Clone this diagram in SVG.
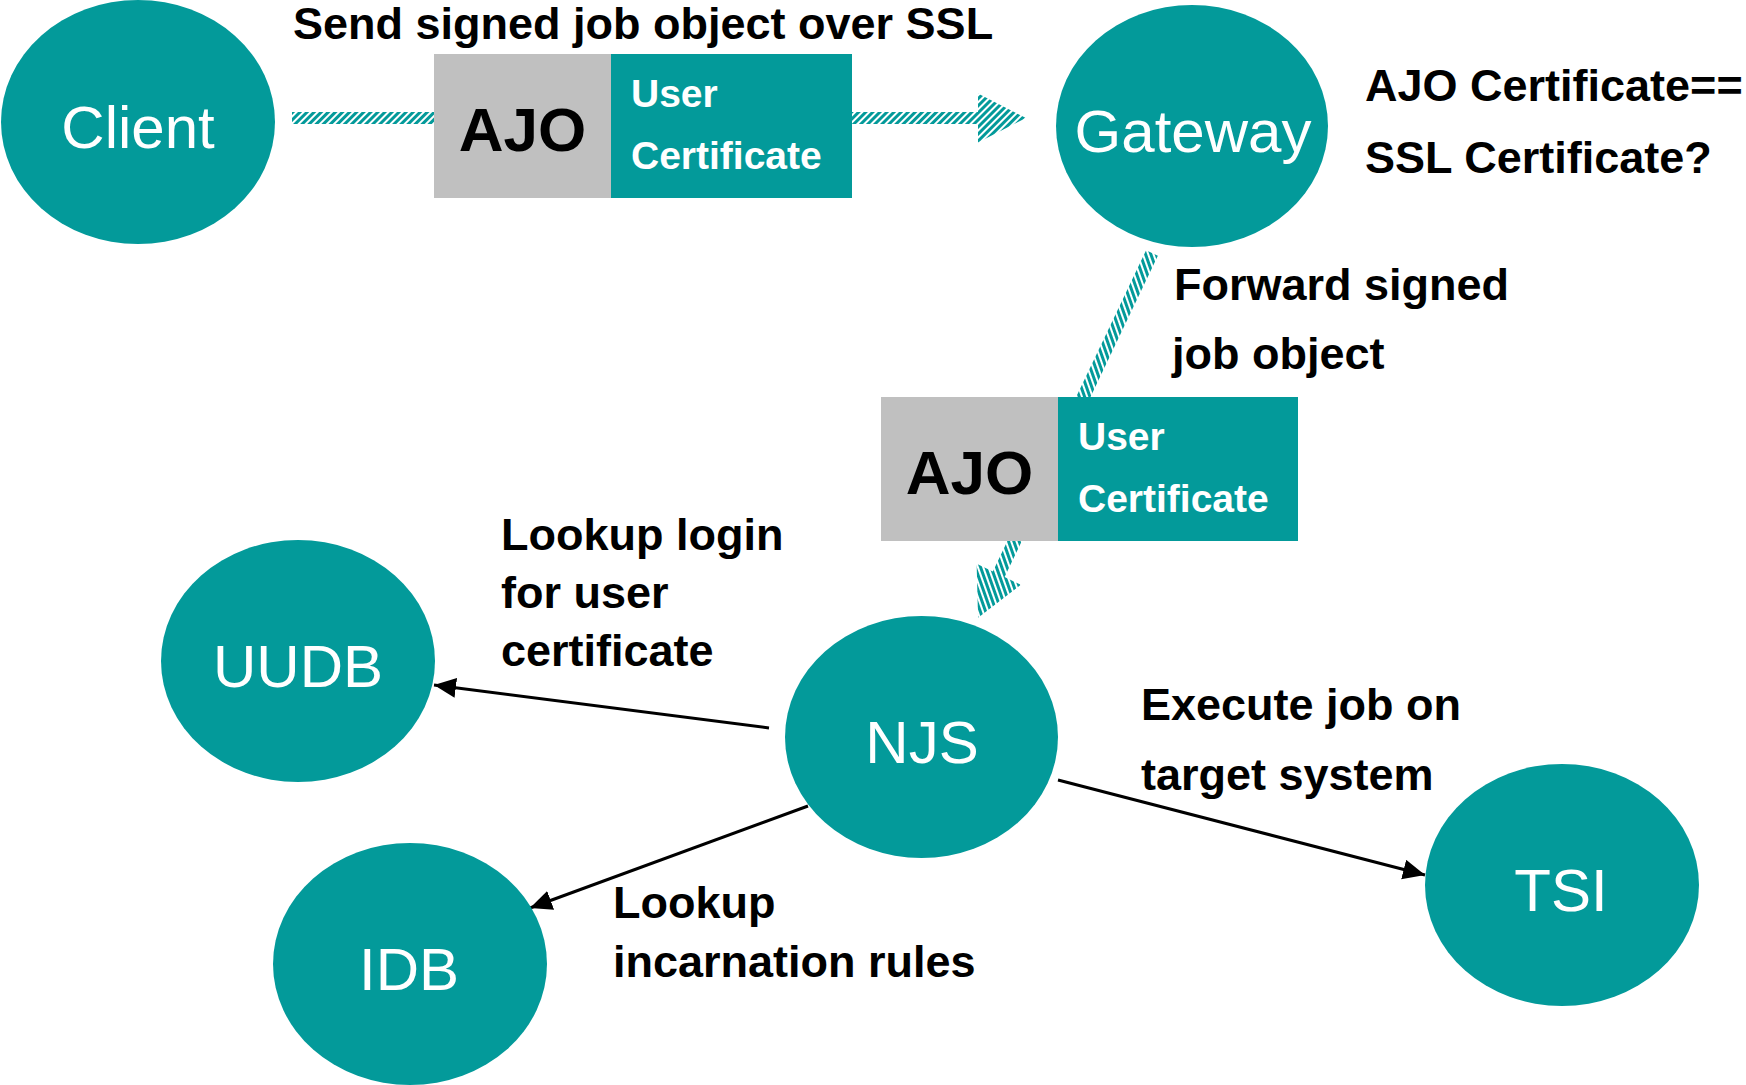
<svg xmlns="http://www.w3.org/2000/svg" width="1746" height="1085" viewBox="0 0 1746 1085">
<style>
.node{fill:#039a9a}
.ntext{font-family:"Liberation Sans",Arial,sans-serif;font-size:60px;fill:#ffffff;text-anchor:middle}
.lbl{font-family:"Liberation Sans",Arial,sans-serif;font-size:45px;font-weight:bold;fill:#000000}
.ajo{font-family:"Liberation Sans",Arial,sans-serif;font-size:62px;font-weight:bold;fill:#000000;text-anchor:middle}
.cert{font-family:"Liberation Sans",Arial,sans-serif;font-size:39px;font-weight:bold;fill:#ffffff}
.gray{fill:#c0c0c0}
.teal{fill:#039a9a}
.thin{stroke:#000;stroke-width:3;fill:none;marker-end:url(#ah)}
.hatch{fill:url(#hp)}
</style>
<defs>
<pattern id="hp" patternUnits="userSpaceOnUse" width="5" height="10" patternTransform="rotate(45)">
<rect x="0" y="0" width="5" height="10" fill="#ffffff"/>
<rect x="0" y="0" width="3" height="10" fill="#039a9a"/>
</pattern>
<marker id="ah" markerUnits="userSpaceOnUse" markerWidth="24" markerHeight="22" refX="22" refY="10" orient="auto">
<path d="M0,0 L22,10 L0,20 Z" fill="#000"/>
</marker>
</defs>
<rect width="1746" height="1085" fill="#ffffff"/>

<g id="connectors">
<g id="hatch-arrow-1" transform="translate(292,118)">
<path class="hatch" d="M0,-6 H686 V-24.5 L734,0 L686,24.5 V6 H0 Z"/>
</g>
<g id="hatch-arrow-2" transform="translate(1152,253) rotate(115.5)">
<path class="hatch" d="M0,-6.5 H356 V-24.5 L404,0 L356,24.5 V6.5 H0 Z"/>
</g>
<line class="thin" x1="769" y1="728" x2="434" y2="685"/>
<line class="thin" x1="808" y1="806" x2="530" y2="908"/>
<line class="thin" x1="1058" y1="780" x2="1425" y2="875"/>
</g>

<g id="msg1">
<rect class="gray" x="434" y="54" width="177" height="144"/>
<rect class="teal" x="611" y="54" width="241" height="144"/>
<text class="ajo" x="522.5" y="151">AJO</text>
<text class="cert" x="631" y="107">User</text>
<text class="cert" x="631" y="169">Certificate</text>
</g>
<g id="msg2">
<rect class="gray" x="881" y="397" width="177" height="144"/>
<rect class="teal" x="1058" y="397" width="240" height="144"/>
<text class="ajo" x="969.5" y="494">AJO</text>
<text class="cert" x="1078" y="450">User</text>
<text class="cert" x="1078" y="512">Certificate</text>
</g>

<g id="client"><ellipse class="node" cx="138" cy="122" rx="137" ry="122"/><text class="ntext" x="138" y="148">Client</text></g>
<g id="gateway"><ellipse class="node" cx="1192" cy="126" rx="136" ry="121"/><text class="ntext" x="1193" y="152">Gateway</text></g>
<g id="uudb"><ellipse class="node" cx="298" cy="661" rx="137" ry="121"/><text class="ntext" x="298" y="687">UUDB</text></g>
<g id="njs"><ellipse class="node" cx="921.5" cy="737" rx="136.5" ry="121"/><text class="ntext" x="922" y="763">NJS</text></g>
<g id="idb"><ellipse class="node" cx="410" cy="964" rx="137" ry="121"/><text class="ntext" x="409" y="990">IDB</text></g>
<g id="tsi"><ellipse class="node" cx="1562" cy="885" rx="137" ry="121"/><text class="ntext" x="1561" y="911">TSI</text></g>

<g id="labels">
<text class="lbl" x="293" y="39">Send signed job object over SSL</text>
<text class="lbl" x="1365" y="101">AJO Certificate==</text>
<text class="lbl" x="1365" y="173">SSL Certificate?</text>
<text class="lbl" x="1174" y="300">Forward signed</text>
<text class="lbl" x="1172" y="369">job object</text>
<text class="lbl" x="501" y="550">Lookup login</text>
<text class="lbl" x="501" y="608">for user</text>
<text class="lbl" x="501" y="666">certificate</text>
<text class="lbl" x="1141" y="720">Execute job on</text>
<text class="lbl" x="1141" y="790">target system</text>
<text class="lbl" x="613" y="918">Lookup</text>
<text class="lbl" x="613" y="977">incarnation rules</text>
</g>
</svg>
